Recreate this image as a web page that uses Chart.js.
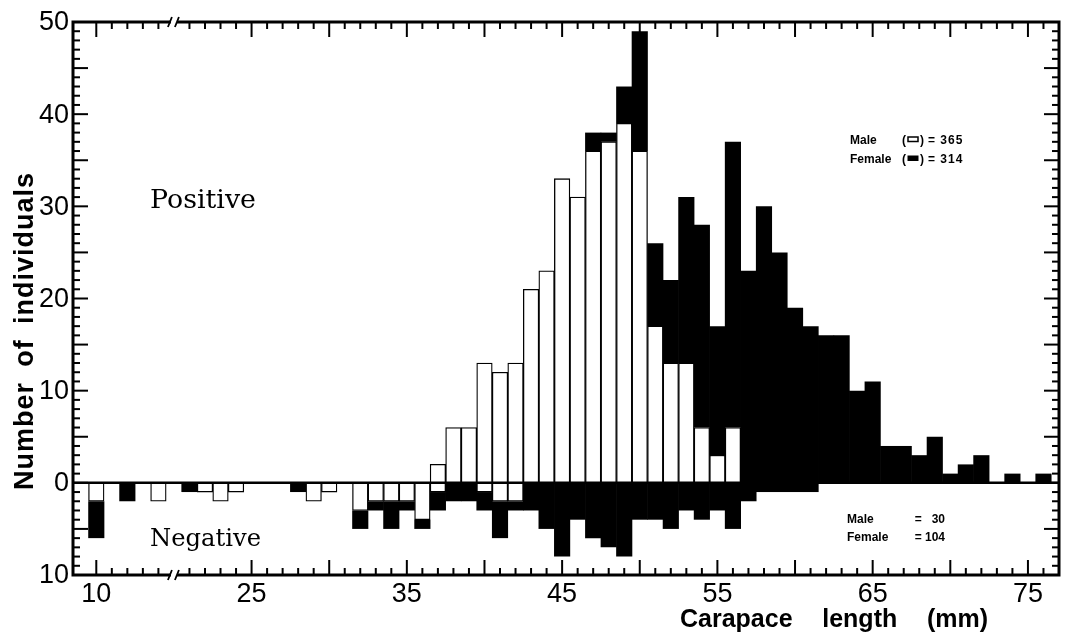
<!DOCTYPE html>
<html>
<head>
<meta charset="utf-8">
<script src="https://cdn.jsdelivr.net/npm/chart.js@4.4.1/dist/chart.umd.min.js"></script>
<style>
    html, body { margin: 0; padding: 0; background: #fff; }
    #wrap { position: relative; width: 1068px; height: 635px; }
</style>
</head>
<body>
<div id="wrap"><canvas id="chart"></canvas></div>
<script>
// Längenklassen (mm) – zwischen 15 und 20 mm ist die Achse unterbrochen
const lengths = [
    10, 11, 12, 13, 14,
    20, 21, 22, 23, 24, 25, 26, 27, 28, 29,
    30, 31, 32, 33, 34, 35, 36, 37, 38, 39,
    40, 41, 42, 43, 44, 45, 46, 47, 48, 49,
    50, 51, 52, 53, 54, 55, 56, 57, 58, 59,
    60, 61, 62, 63, 64, 65, 66, 67, 68, 69,
    70, 71, 72, 73, 74, 75, 76
];

// Positive (oberhalb 0)
const malePositive = [
    0, 0, 0, 0, 0,
    0, 0, 0, 0, 0, 0, 0, 0, 0, 0,
    0, 0, 0, 0, 0, 0, 0, 2, 6, 6,
    13, 12, 13, 21, 23, 33, 31, 36, 37, 39,
    36, 17, 13, 13, 6, 3, 6, 0, 0, 0,
    0, 0, 0, 0, 0, 0, 0, 0, 0, 0,
    0, 0, 0, 0, 0, 0, 0
];
const femalePositive = [
    0, 0, 0, 0, 0,
    0, 0, 0, 0, 0, 0, 0, 0, 0, 0,
    0, 0, 0, 0, 0, 0, 0, 0, 0, 0,
    0, 0, 0, 0, 0, 0, 0, 2, 1, 4,
    13, 9, 9, 18, 22, 14, 31, 23, 30, 25,
    19, 17, 16, 16, 10, 11, 4, 4, 3, 5,
    1, 2, 3, 0, 1, 0, 1
];

// Negative (unterhalb 0)
const maleNegative = [
    2, 0, 0, 0, 2,
    0, 0, 1, 2, 1, 0, 0, 0, 0, 2,
    1, 0, 3, 2, 2, 2, 4, 1, 0, 0,
    1, 2, 2, 0, 0, 0, 0, 0, 0, 0,
    0, 0, 0, 0, 0, 0, 0, 0, 0, 0,
    0, 0, 0, 0, 0, 0, 0, 0, 0, 0,
    0, 0, 0, 0, 0, 0, 0
];
const femaleNegative = [
    4, 0, 2, 0, 0,
    0, 1, 0, 0, 0, 0, 0, 0, 1, 0,
    0, 0, 2, 1, 3, 1, 1, 2, 2, 2,
    2, 4, 1, 3, 5, 8, 4, 6, 7, 8,
    4, 4, 5, 3, 4, 3, 5, 2, 1, 1,
    1, 1, 0, 0, 0, 0, 0, 0, 0, 0,
    0, 0, 0, 0, 0, 0, 0
];

const xTickLabels = [10, 25, 35, 45, 55, 65, 75];
const yTickLabels = [-10, 0, 10, 20, 30, 40, 50];

// Achsenbruch: alles unter 15 mm rückt um 5 mm nach rechts
const axisPos = mm => (mm < 15 ? mm + 5 : mm);

const toPoints = (values, sign) => lengths
    .map((mm, i) => ({ x: axisPos(mm), y: sign * values[i] }))
    .filter(p => p.y !== 0);

const SANS = '"Liberation Sans", Arial, sans-serif';
const SERIF = '"DejaVu Serif", "Liberation Serif", serif';

function line(ctx, x1, y1, x2, y2) {
    ctx.beginPath();
    ctx.moveTo(x1, y1);
    ctx.lineTo(x2, y2);
    ctx.stroke();
}

function fitText(ctx, text, family, weight, width, x, y) {
    ctx.font = `${weight} 20px ${family}`;
    const size = 20 * width / ctx.measureText(text).width;
    ctx.font = `${weight} ${size}px ${family}`;
    ctx.fillText(text, x, y);
}

// Wörter gleichmäßig über eine Strecke verteilen (Titel mit weiten Wortabständen)
function spreadWords(ctx, words, start, span, y) {
    const widths = words.map(w => ctx.measureText(w).width);
    const gap = (span - widths.reduce((s, w) => s + w, 0)) / (words.length - 1);
    let pos = start;
    words.forEach((w, i) => {
        ctx.fillText(w, pos, y);
        pos += widths[i] + gap;
    });
}

function breakMark(ctx, bx, by) {
    ctx.fillStyle = '#fff';
    ctx.fillRect(bx - 3, by - 4, 6, 8);
    ctx.fillStyle = '#000';
    ctx.lineWidth = 1.8;
    line(ctx, bx - 6, by + 5, bx - 2, by - 5);
    line(ctx, bx + 1, by + 5, bx + 5, by - 5);
}

// Zeile mit Symbol in Klammern: "Male (▭) = 365"
function legendLine(ctx, label, filled, value, y) {
    ctx.textAlign = 'left';
    ctx.fillText(label, 850, y);
    ctx.fillText('(', 902, y);
    if (filled) {
        ctx.fillRect(907.5, y - 7.5, 11, 5.5);
    } else {
        ctx.lineWidth = 1.5;
        ctx.strokeRect(908, y - 7, 10, 4.5);
    }
    ctx.fillText(')', 920, y);
    ctx.letterSpacing = '1px';
    ctx.fillText(value, 928, y);
    ctx.letterSpacing = '0px';
}

function countLine(ctx, label, value, y) {
    ctx.textAlign = 'left';
    ctx.fillText(label, 847, y);
    ctx.textAlign = 'right';
    ctx.fillText(value, 945, y);
}

const framePlugin = {
    id: 'frame',
    afterDatasetsDraw(chart) {
        const { ctx, chartArea: a, scales: { x, y } } = chart;
        ctx.save();
        ctx.strokeStyle = '#000';
        ctx.fillStyle = '#000';

        // Nulllinie
        ctx.lineWidth = 2.5;
        const y0 = y.getPixelForValue(0);
        line(ctx, a.left, y0, a.right, y0);

        // Rahmen
        ctx.lineWidth = 3;
        ctx.strokeRect(a.left, a.top, a.right - a.left, a.bottom - a.top);

        // y-Striche innen, links und rechts
        ctx.lineWidth = 2;
        for (let v = -10; v <= 50; v++) {
            const py = y.getPixelForValue(v);
            const len = v % 5 === 0 ? 15 : 7;
            line(ctx, a.left, py, a.left + len, py);
            line(ctx, a.right, py, a.right - len, py);
        }

        // x-Striche innen, unten und oben
        const tickMM = [];
        for (let mm = 10; mm <= 14; mm++) tickMM.push(mm);
        for (let mm = 21; mm <= 76; mm++) tickMM.push(mm);
        tickMM.forEach(mm => {
            const px = x.getPixelForValue(axisPos(mm));
            const len = mm % 5 === 0 ? 15 : 7;
            line(ctx, px, a.bottom, px, a.bottom - len);
            line(ctx, px, a.top, px, a.top + len);
        });

        // Achsenbruch
        const bx = x.getPixelForValue(20);
        breakMark(ctx, bx, a.top);
        breakMark(ctx, bx, a.bottom);

        // Beschriftung der Achsen
        ctx.font = `27px ${SANS}`;
        ctx.textBaseline = 'middle';
        ctx.textAlign = 'right';
        yTickLabels.forEach(v => {
            ctx.fillText(String(Math.abs(v)), a.left - 4, y.getPixelForValue(v) + 1);
        });
        ctx.textAlign = 'center';
        xTickLabels.forEach(mm => {
            ctx.fillText(String(mm), x.getPixelForValue(axisPos(mm)), a.bottom + 20);
        });

        // Achsentitel
        ctx.textAlign = 'left';
        ctx.textBaseline = 'alphabetic';
        ctx.font = `bold 25px ${SANS}`;
        spreadWords(ctx, ['Carapace', 'length', '(mm)'], 680, 308, 627);

        ctx.save();
        ctx.translate(33, 0);
        ctx.rotate(-Math.PI / 2);
        ctx.font = `bold 27px ${SANS}`;
        ctx.letterSpacing = '1px';
        spreadWords(ctx, ['Number', 'of', 'individuals'], -490, 318, 0);
        ctx.letterSpacing = '0px';
        ctx.restore();

        // Positive / Negative
        ctx.textAlign = 'left';
        fitText(ctx, 'Positive', SERIF, 'normal', 106, 150, 208);
        fitText(ctx, 'Negative', SERIF, 'normal', 111, 150, 546);

        // Anzahlen
        ctx.font = `bold 12px ${SANS}`;
        legendLine(ctx, 'Male', false, '= 365', 144);
        legendLine(ctx, 'Female', true, '= 314', 163);
        countLine(ctx, 'Male', '=   30', 523);
        countLine(ctx, 'Female', '= 104', 541);

        ctx.restore();
    }
};

const maleStyle = {
    backgroundColor: '#ffffff',
    borderColor: '#000000',
    borderWidth: 1.3,
    barPercentage: 1,
    categoryPercentage: 1,
    stack: 'all',
};
const femaleStyle = {
    backgroundColor: '#000000',
    borderWidth: 0,
    barPercentage: 1.04,
    categoryPercentage: 1,
    stack: 'all',
};

new Chart(document.getElementById('chart'), {
    type: 'bar',
    data: {
        datasets: [
            { label: 'Male', data: toPoints(malePositive, 1), ...maleStyle },
            { label: 'Female', data: toPoints(femalePositive, 1), ...femaleStyle },
            { label: 'Male (negative)', data: toPoints(maleNegative, -1), ...maleStyle },
            { label: 'Female (negative)', data: toPoints(femaleNegative, -1), ...femaleStyle },
        ],
    },
    options: {
        responsive: true,
        maintainAspectRatio: false,
        animation: false,
        layout: { padding: { left: 73, right: 9, top: 22, bottom: 60 } },
        plugins: {
            legend: { display: false },
            tooltip: { enabled: false },
        },
        scales: {
            x: {
                type: 'linear',
                min: 13.5,
                max: 77,
                offset: false,
                stacked: true,
                display: false,
            },
            y: {
                min: -10,
                max: 50,
                stacked: true,
                display: false,
            },
        },
    },
    plugins: [framePlugin],
});
</script>
</body>
</html>
